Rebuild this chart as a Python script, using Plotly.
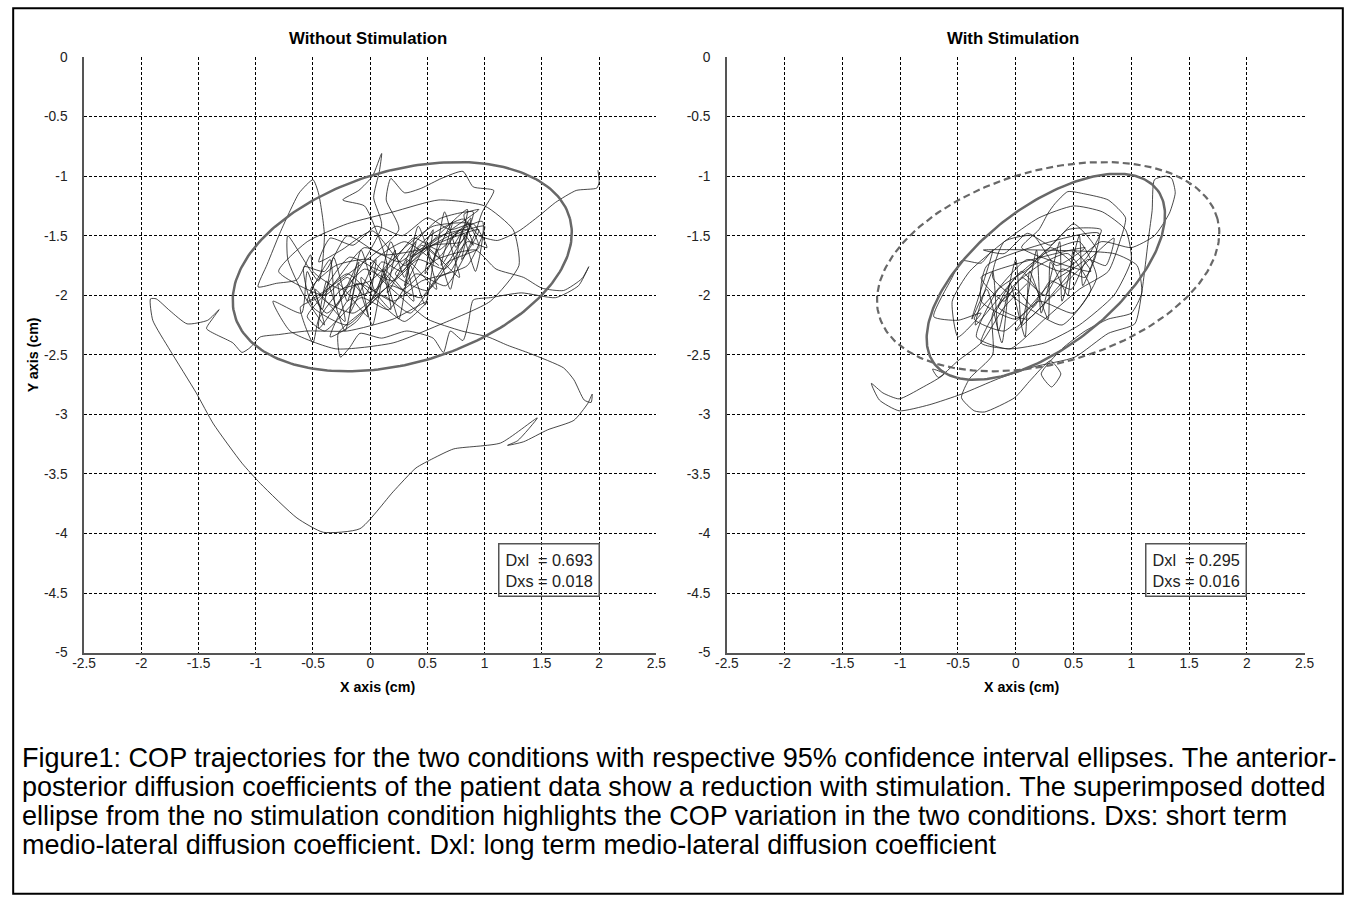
import numpy as np
import plotly.graph_objects as go

# ---------------- data ----------------
x_tick_vals = [-2.5, -2, -1.5, -1, -0.5, 0, 0.5, 1, 1.5, 2, 2.5]
x_tick_text = ["-2.5", "-2", "-1.5", "-1", "-0.5", "0", "0.5", "1", "1.5", "2", "2.5"]
y_tick_vals = [0, -0.5, -1, -1.5, -2, -2.5, -3, -3.5, -4, -4.5, -5]
y_tick_text = ["0", "-0.5", "-1", "-1.5", "-2", "-2.5", "-3", "-3.5", "-4", "-4.5", "-5"]

panel_titles = ["Without Stimulation", "With Stimulation"]
x_title = "X axis (cm)"
y_title = "Y axis (cm)"
coef_text = ["Dxl  = 0.693<br>Dxs = 0.018", "Dxl  = 0.295<br>Dxs = 0.016"]

# 95% confidence ellipses: center x, center y, semi-major, semi-minor, angle (deg)
ellipse_no_stim = [0.28, -1.76, 1.52, 0.81, 15.3]
ellipse_stim = [0.26, -1.845, 1.21, 0.59, 36.8]

# COP trajectory without stimulation (x, y in cm)
cop_no_stim = [
    (1.99, -0.95), (2.00, -1.05), (1.98, -1.10), (1.80, -1.12), (1.62, -1.22), (1.48, -1.33),
    (1.30, -1.46), (1.11, -1.54), (0.95, -1.50),
    (0.85, -1.40), (0.60, -1.62), (0.38, -1.52), (0.12, -1.80), (-0.18, -1.68), (-0.42, -2.02),
    (-0.15, -2.15), (0.18, -1.92), (0.44, -2.02), (0.68, -1.72), (0.95, -1.60), (0.82, -1.36),
    (0.52, -1.50), (0.26, -1.72), (-0.05, -1.60), (-0.33, -1.92), (-0.55, -2.18), (-0.40, -2.30),
    (-0.08, -2.02), (0.16, -2.12), (0.40, -1.82), (0.66, -1.92), (0.90, -1.52),
    (0.98, -1.30), (1.08, -1.12), (0.90, -1.09), (0.81, -0.96), (0.62, -1.02), (0.45, -1.10),
    (0.30, -1.14), (0.18, -1.02), (0.14, -1.20), (0.25, -1.45),
    (-0.55, -2.05), (-0.35, -1.70), (-0.30, -2.10), (-0.10, -1.72), (-0.18, -2.15), (0.05, -1.70),
    (0.00, -2.05), (0.22, -1.62), (0.15, -1.98), (0.40, -1.55), (0.30, -1.92), (0.55, -1.45),
    (0.48, -1.82), (0.72, -1.38), (0.62, -1.75), (0.88, -1.35), (0.80, -1.70), (0.95, -1.45),
    (0.42, -1.62), (0.10, -1.66), (-0.20, -1.50), (-0.40, -1.80), (-0.58, -1.76), (-0.50, -2.10),
    (-0.20, -2.25), (0.10, -2.00), (0.35, -2.15), (0.60, -1.85), (0.85, -1.75), (1.00, -1.42),
    (0.70, -1.52), (0.78, -1.85), (0.50, -1.60), (0.58, -1.95), (0.32, -1.70), (0.38, -2.05),
    (0.12, -1.78), (0.18, -2.12), (-0.08, -1.85), (-0.02, -2.18), (-0.28, -1.90), (-0.22, -2.22),
    (-0.48, -1.95), (-0.40, -2.25), (-0.58, -2.00),
    (-0.72, -1.70), (-0.72, -1.50), (-0.45, -1.88), (-0.40, -1.50), (-0.45, -1.15), (-0.50, -1.03),
    (-0.62, -1.14), (-0.70, -1.29), (-0.79, -1.48), (-0.90, -1.74), (-0.98, -1.93), (-0.82, -1.90),
    (-0.64, -1.87), (-0.52, -1.66),
    (-0.50, -1.80), (-0.25, -1.95), (-0.05, -1.78), (0.20, -1.88), (0.42, -1.70), (0.65, -1.78),
    (0.85, -1.55), (1.02, -1.60), (0.90, -1.40), (0.70, -1.45), (0.50, -1.35), (0.28, -1.50),
    (0.05, -1.42), (-0.15, -1.58), (-0.35, -1.52), (-0.45, -1.72),
    (-0.25, -1.62), (0.02, -1.46), (0.30, -1.75), (0.55, -1.58), (0.80, -1.55), (0.90, -1.30),
    (0.60, -1.36), (0.35, -1.60), (0.05, -1.95), (-0.20, -2.05), (-0.35, -2.35), (-0.12, -2.22),
    (0.15, -1.78),
    (0.05, -1.45), (-0.05, -1.25), (-0.24, -1.20), (-0.10, -1.12), (0.02, -1.00), (0.10, -0.81),
    (0.08, -0.96), (0.03, -1.18), (0.10, -1.42),
    (-0.45, -2.28), (-0.38, -1.88), (-0.22, -2.30), (-0.12, -1.90), (0.02, -2.25), (0.12, -1.82),
    (0.25, -2.20), (0.35, -1.75), (0.48, -2.08), (0.58, -1.62), (0.70, -1.95), (0.80, -1.48),
    (0.92, -1.80), (0.98, -1.38),
    (0.35, -1.68), (0.62, -1.50), (0.85, -1.45), (0.70, -1.80), (0.45, -1.88), (0.20, -2.05),
    (-0.10, -1.90), (-0.38, -2.15), (-0.52, -1.95), (-0.30, -1.75), (0.00, -1.70), (0.28, -1.95),
    (0.58, -1.70), (0.92, -1.62),
    (1.10, -1.78), (1.34, -1.85), (1.50, -1.94), (1.69, -1.96), (1.85, -1.86), (1.91, -1.76),
    (1.82, -1.92), (1.62, -2.02), (1.32, -1.98), (1.05, -2.02), (0.90, -2.04),
    (0.86, -2.22), (0.81, -2.38), (0.70, -2.30), (0.64, -2.48), (0.55, -2.36), (0.32, -2.30),
    (0.10, -2.36), (-0.09, -2.32), (-0.18, -2.44), (-0.26, -2.52), (-0.28, -2.32), (-0.05, -2.12),
    (0.85, -1.28), (0.75, -1.60), (0.65, -1.30), (0.55, -1.72), (0.42, -1.42), (0.30, -1.85),
    (0.18, -1.55), (0.05, -1.98), (-0.08, -1.62), (-0.20, -2.05), (-0.32, -1.68), (-0.42, -2.12),
    (-0.55, -1.80), (-0.60, -2.15),
    (-0.85, -2.05), (-0.70, -2.30), (-0.30, -2.45), (0.20, -2.40), (0.60, -2.25), (1.05, -2.05),
    (1.30, -1.75), (1.25, -1.45), (1.00, -1.25), (0.60, -1.20), (0.20, -1.30), (-0.20, -1.40),
    (-0.55, -1.55), (-0.80, -1.80),
    (-0.40, -2.00), (-0.20, -1.85), (-0.05, -2.00), (0.10, -1.72), (0.28, -1.80), (0.45, -1.58),
    (0.60, -1.68), (0.78, -1.45), (0.90, -1.58), (0.82, -1.32), (0.95, -1.28),
    (0.22, -1.82), (0.50, -1.96), (0.75, -1.62), (0.88, -1.40), (0.55, -1.42), (0.30, -1.60),
    (0.00, -1.88), (-0.25, -1.95), (-0.45, -2.20), (-0.50, -2.40), (-0.61, -2.10), (-0.45, -2.02),
    (-0.20, -1.82), (0.10, -2.08), (0.30, -2.22), (0.50, -2.05),
    (0.20, -2.20), (-0.20, -2.30), (-0.55, -2.30), (-0.80, -2.33), (-0.96, -2.35), (-1.05, -2.44),
    (-1.12, -2.48), (-1.20, -2.40), (-1.43, -2.28), (-1.38, -2.20), (-1.32, -2.12), (-1.42, -2.21),
    (-1.60, -2.24), (-1.75, -2.13), (-1.87, -2.03), (-1.92, -2.03), (-1.90, -2.21), (-1.75, -2.46),
    (-1.52, -2.82), (-1.37, -3.08), (-1.12, -3.41), (-0.96, -3.58), (-0.64, -3.87), (-0.41, -3.99),
    (-0.09, -3.96), (0.20, -3.65), (0.40, -3.45), (0.55, -3.37), (0.73, -3.29), (1.14, -3.24),
    (1.46, -3.03), (1.29, -3.22), (1.20, -3.26), (1.34, -3.23), (1.55, -3.13), (1.78, -3.05),
    (1.90, -2.91), (1.94, -2.83), (1.93, -2.90), (1.87, -2.88), (1.78, -2.71), (1.69, -2.61),
    (1.40, -2.49), (1.20, -2.42), (1.03, -2.35), (0.80, -2.30), (0.50, -2.20), (0.25, -2.00),
    (0.00, -1.75), (0.30, -1.55), (0.60, -1.75),
]

# COP trajectory with stimulation (x, y in cm)
cop_stim = [
    (0.10, -1.90), (-0.10, -2.10), (-0.30, -2.40), (-0.50, -2.55), (-0.67, -2.69), (-0.72, -2.62),
    (-0.62, -2.66), (-0.82, -2.78), (-1.01, -2.87), (-1.15, -2.82), (-1.25, -2.74), (-1.18, -2.88),
    (-1.01, -2.97), (-0.75, -2.92), (-0.47, -2.83), (-0.15, -2.70), (0.16, -2.60), (0.51, -2.52),
    (0.80, -2.32), (1.03, -2.24), (1.09, -1.98), (1.15, -1.51), (1.18, -1.29), (1.20, -1.03),
    (1.30, -1.00), (1.35, -1.02), (1.38, -1.14), (1.33, -1.31), (1.20, -1.50), (1.00, -1.60),
    (0.74, -1.55), (0.40, -1.80), (0.10, -1.70), (-0.20, -2.00), (-0.36, -2.20), (-0.10, -2.30),
    (0.20, -2.05), (0.50, -2.15), (0.70, -1.85), (0.55, -1.55), (0.25, -1.65), (0.00, -1.85),
    (-0.35, -2.25), (-0.20, -1.80), (-0.15, -2.30), (0.00, -1.70), (0.05, -2.25), (0.18, -1.62),
    (0.22, -2.15), (0.38, -1.55), (0.40, -2.05), (0.55, -1.50), (0.58, -1.92), (0.72, -1.48),
    (-0.25, -1.75), (-0.30, -2.05), (0.00, -2.20), (0.30, -1.90), (0.60, -1.70), (0.74, -1.45),
    (0.45, -1.45), (0.15, -1.75), (-0.15, -1.95), (-0.34, -2.35), (-0.05, -2.45), (0.25, -2.20),
    (0.55, -1.95), (0.80, -1.80),
    (0.90, -1.55), (0.95, -1.35), (0.80, -1.20), (0.60, -1.15), (0.45, -1.13), (0.34, -1.23),
    (0.28, -1.31), (0.20, -1.45), (0.05, -1.60),
    (0.65, -1.80), (0.50, -1.62), (0.45, -2.00), (0.30, -1.72), (0.28, -2.20), (0.12, -1.80),
    (0.08, -2.35), (-0.05, -1.90), (-0.12, -2.40), (-0.25, -1.95), (-0.38, -2.20),
    (-0.20, -1.62), (-0.30, -1.73), (-0.47, -1.71), (-0.55, -1.85), (-0.71, -2.18), (-0.50, -2.21),
    (-0.30, -2.15),
    (-0.50, -2.35), (-0.55, -2.05), (-0.40, -1.80), (-0.10, -1.55), (0.20, -1.35), (0.50, -1.25),
    (0.75, -1.30), (0.95, -1.45), (1.00, -1.70), (0.85, -2.00), (0.55, -2.25), (0.25, -2.40),
    (-0.05, -2.45), (-0.30, -2.40),
    (-0.05, -1.95), (0.20, -1.75), (0.45, -1.65), (0.65, -1.95), (0.40, -2.25), (0.10, -2.10),
    (-0.20, -1.85), (-0.10, -1.55), (0.15, -1.50), (0.35, -1.75), (0.60, -1.60),
    (-0.30, -1.85), (-0.10, -2.05), (0.05, -1.85), (0.25, -2.00), (0.40, -1.78), (0.60, -1.85),
    (0.70, -1.62), (0.50, -1.40), (0.30, -1.58), (0.10, -1.48), (-0.10, -1.65), (-0.28, -1.62),
    (0.85, -1.65), (1.05, -1.75), (1.09, -1.98), (1.00, -2.15), (0.80, -2.20), (0.60, -2.30),
    (0.40, -2.45), (0.22, -2.66), (0.31, -2.77), (0.39, -2.66), (0.30, -2.55), (0.13, -2.71),
    (-0.01, -2.86), (-0.27, -2.98), (-0.36, -2.97), (-0.47, -2.86), (-0.40, -2.70), (-0.20, -2.50),
    (-0.20, -2.15), (0.00, -1.95), (0.15, -2.10), (0.30, -1.88), (0.48, -1.95), (0.62, -1.70),
    (0.78, -1.75), (0.85, -1.52),
    (0.00, -2.30), (0.20, -2.00), (0.05, -1.80), (-0.15, -2.10), (0.10, -2.20), (0.35, -1.95),
    (0.50, -1.75), (0.30, -1.60), (0.05, -1.85),
]

caption_lines = [
    "Figure1: COP trajectories for the two conditions with respective 95% confidence interval ellipses. The anterior-",
    "posterior diffusion coefficients of the patient data show a reduction with stimulation. The superimposed dotted",
    "ellipse from the no stimulation condition highlights the COP variation in the two conditions. Dxs: short term",
    "medio-lateral diffusion coefficient. Dxl: long term medio-lateral diffusion coefficient",
]

# ---------------- layout constants ----------------
W, H = 1354, 903
FONT = "Liberation Sans, Arial, sans-serif"
# the photographed page appears scaled and shifted; positions below are given in picture pixels
K = 0.9825
OX, OY = 12.0, 7.0


def px_x(p):
    return min(max(((p - OX) / K) / W, 0.0), 1.0)


def px_y(p):
    return min(max(1 - ((p - OY) / K) / H, 0.0), 1.0)


def fs(s):
    return s / K


def ellipse_xy(params):
    cx, cy, a, b, ang = params
    t = np.linspace(0, 2 * np.pi, 241)
    th = np.deg2rad(ang)
    ex = cx + a * np.cos(t) * np.cos(th) - b * np.sin(t) * np.sin(th)
    ey = cy + a * np.cos(t) * np.sin(th) + b * np.sin(t) * np.cos(th)
    return ex, ey


fig = go.Figure()

line_col = "#1a1a1a"
ell_col = "#686868"
traj_line = dict(color=line_col, width=0.8, shape="spline", smoothing=0.55)

# left panel
lx, ly = zip(*cop_no_stim)
fig.add_trace(go.Scatter(x=lx, y=ly, mode="lines", line=traj_line, xaxis="x", yaxis="y", hoverinfo="skip"))
ex, ey = ellipse_xy(ellipse_no_stim)
fig.add_trace(go.Scatter(x=ex, y=ey, mode="lines", line=dict(color=ell_col, width=2.5), xaxis="x", yaxis="y",
                         hoverinfo="skip"))

# right panel
rx, ry = zip(*cop_stim)
fig.add_trace(go.Scatter(x=rx, y=ry, mode="lines", line=traj_line, xaxis="x2", yaxis="y2", hoverinfo="skip"))
ex, ey = ellipse_xy(ellipse_stim)
fig.add_trace(go.Scatter(x=ex, y=ey, mode="lines", line=dict(color=ell_col, width=2.5), xaxis="x2", yaxis="y2",
                         hoverinfo="skip"))
ex, ey = ellipse_xy(ellipse_no_stim)
fig.add_trace(go.Scatter(x=ex, y=ey, mode="lines", line=dict(color=ell_col, width=2.2, dash="7px,4px"),
                         xaxis="x2", yaxis="y2", hoverinfo="skip"))

tick_font = dict(family=FONT, size=fs(13.5), color="#222222")
common_x = dict(range=[-2.5, 2.5], tickmode="array", tickvals=x_tick_vals, ticktext=x_tick_text,
                showgrid=True, gridcolor="#000000", gridwidth=1, griddash="3px,2px",
                showline=True, linecolor="#555555", linewidth=1.5, mirror=False, zeroline=False,
                ticks="", tickfont=tick_font, fixedrange=True, ticklabelstandoff=-3)
common_y = dict(range=[-5, 0], tickmode="array", tickvals=y_tick_vals, ticktext=y_tick_text,
                showgrid=True, gridcolor="#000000", gridwidth=1, griddash="3px,2px",
                showline=True, linecolor="#555555", linewidth=1.5, mirror=False, zeroline=False,
                ticks="", tickfont=tick_font, fixedrange=True, ticklabelstandoff=12)

fig.update_layout(
    width=W, height=H,
    margin=dict(l=0, r=0, t=0, b=0),
    paper_bgcolor="white", plot_bgcolor="white",
    showlegend=False,
    xaxis=dict(domain=[px_x(84), px_x(655.5)], anchor="y", **common_x),
    yaxis=dict(domain=[px_y(652), px_y(57)], anchor="x", **common_y),
    xaxis2=dict(domain=[px_x(726), px_x(1303)], anchor="y2", **common_x),
    yaxis2=dict(domain=[px_y(652), px_y(57)], anchor="x2", **common_y),
)

annots = []
title_font = dict(family=FONT, size=fs(16.5), color="#000000")
label_font = dict(family=FONT, size=fs(14), color="#000000")
for cx_px, t in zip([368, 1012], panel_titles):
    annots.append(dict(x=px_x(cx_px), y=px_y(38), xref="paper", yref="paper", text="<b>%s</b>" % t,
                       showarrow=False, xanchor="center", yanchor="middle", font=title_font))
for cx_px in [377, 1020]:
    annots.append(dict(x=px_x(cx_px), y=px_y(686), xref="paper", yref="paper", text="<b>%s</b>" % x_title,
                       showarrow=False, xanchor="center", yanchor="middle", font=label_font))
annots.append(dict(x=px_x(33), y=px_y(355), xref="paper", yref="paper", text="<b>%s</b>" % y_title,
                   showarrow=False, xanchor="center", yanchor="middle", textangle=-90, font=label_font))

box_font = dict(family=FONT, size=fs(16), color="#222222")
for xr, yr, txt in [("x", "y", coef_text[0]), ("x2", "y2", coef_text[1])]:
    annots.append(dict(x=1.12, y=-4.08, xref=xr, yref=yr, text=txt, showarrow=False, xanchor="left",
                       yanchor="top", align="left", font=box_font, bordercolor="#555555", borderwidth=1.5,
                       borderpad=6))

cap_font = dict(family=FONT, size=fs(26.55), color="#000000")
for i, line in enumerate(caption_lines):
    annots.append(dict(x=px_x(20), y=px_y(757 + 29 * i), xref="paper", yref="paper", text=line,
                       showarrow=False, xanchor="left", yanchor="middle", align="left", font=cap_font))

fig.update_layout(annotations=annots)
fig.add_shape(type="rect", xref="paper", yref="paper", x0=1.2 / W, x1=1 - 1.2 / W, y0=1.2 / H, y1=1 - 1.2 / H,
              line=dict(color="#000000", width=2))

fig.write_html("out.html", config={"displayModeBar": False},
               post_script="document.body.style.margin='0';document.body.style.overflow='hidden';")
